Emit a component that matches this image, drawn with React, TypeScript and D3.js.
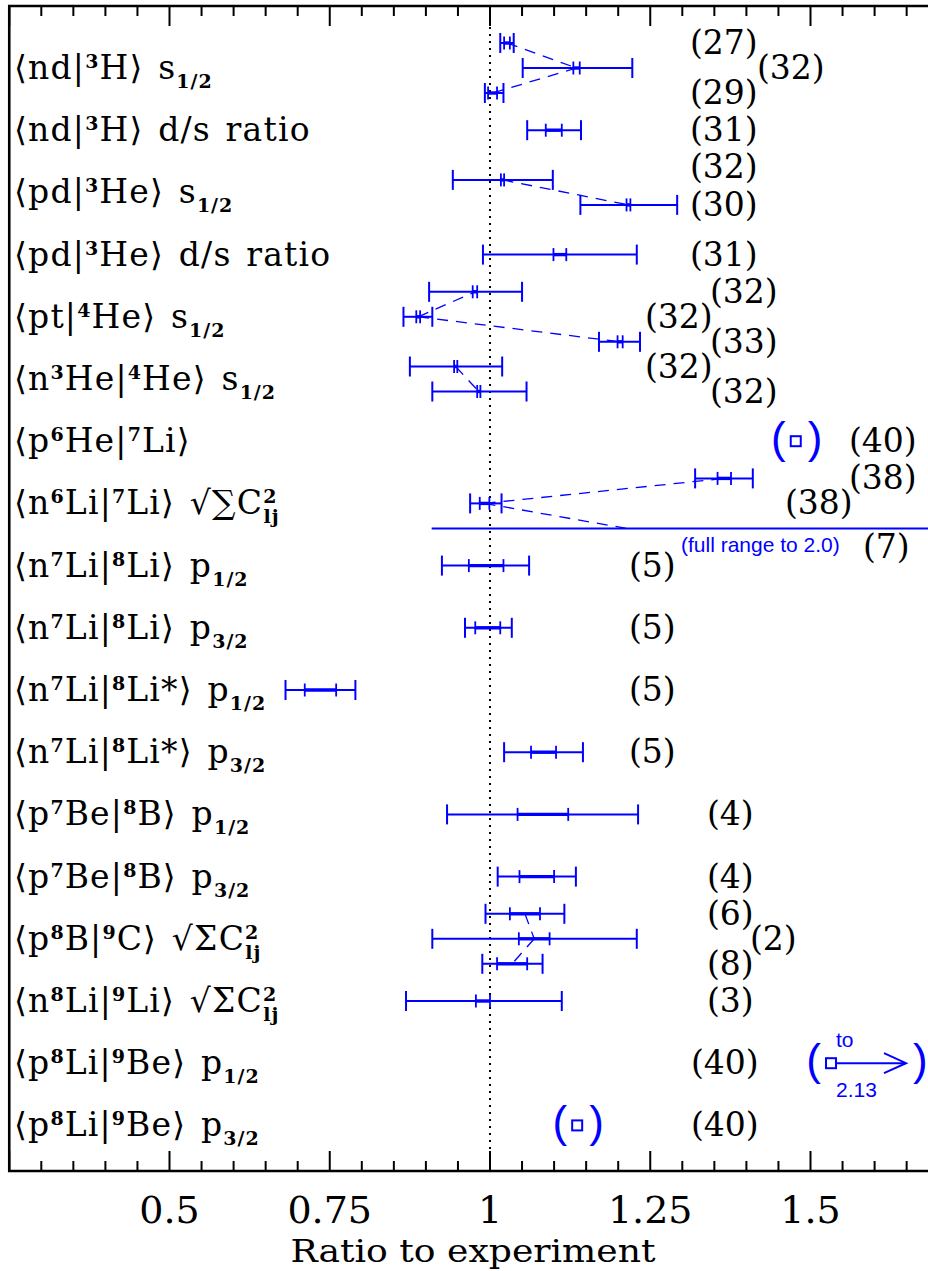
import React from 'react';
import * as d3 from 'd3';

// row labels: ^x / ^{..} superscript, _{..} subscript
const rowLabels = [
  '⟨nd|^3H⟩ s_{1/2}',
  '⟨nd|^3H⟩ d/s ratio',
  '⟨pd|^3He⟩ s_{1/2}',
  '⟨pd|^3He⟩ d/s ratio',
  '⟨pt|^4He⟩ s_{1/2}',
  '⟨n^3He|^4He⟩ s_{1/2}',
  '⟨p^6He|^7Li⟩',
  '⟨n^6Li|^7Li⟩ √∑C^{2}_{lj}',
  '⟨n^7Li|^8Li⟩ p_{1/2}',
  '⟨n^7Li|^8Li⟩ p_{3/2}',
  '⟨n^7Li|^8Li*⟩ p_{1/2}',
  '⟨n^7Li|^8Li*⟩ p_{3/2}',
  '⟨p^7Be|^8B⟩ p_{1/2}',
  '⟨p^7Be|^8B⟩ p_{3/2}',
  '⟨p^8B|^9C⟩ √ΣC^{2}_{lj}',
  '⟨n^8Li|^9Li⟩ √ΣC^{2}_{lj}',
  '⟨p^8Li|^9Be⟩ p_{1/2}',
  '⟨p^8Li|^9Be⟩ p_{3/2}',
];

// error bars (ratio to experiment)
const barRow  = [0, 0, 0, 1, 2, 2, 3, 4, 4, 4, 5, 5, 7, 7, 7, 8, 9, 10, 11, 12, 13, 14, 14, 14, 15];
const barSlot = [-1, 0, 1, 0, -0.5, 0.5, 0, -1, 0, 1, -0.5, 0.5, -1, 0, 1, 0, 0, 0, 0, 0, 0, -1, 0, 1, 0];
const barLow  = [1.016, 1.051, 0.992, 1.058, 0.942, 1.141, 0.989, 0.905, 0.865, 1.170, 0.875, 0.910, 1.320, 0.969, 0.909, 0.925, 0.961, 0.681, 1.022, 0.933, 1.012, 0.993, 0.910, 0.988, 0.869];
const barMidA = [1.022, 1.130, 0.997, 1.087, 1.017, 1.213, 1.099, 0.973, 0.885, 1.199, 0.944, 0.980, 1.355, 0.984, 1.213, 0.967, 0.977, 0.711, 1.064, 1.043, 1.046, 1.031, 1.045, 1.011, 0.978];
const barMidB = [1.031, 1.140, 1.011, 1.112, 1.022, 1.219, 1.119, 0.980, 0.891, 1.207, 0.949, 0.985, 1.376, 0.999, 1.213, 1.021, 1.016, 0.760, 1.103, 1.122, 1.100, 1.078, 1.093, 1.058, 1.000];
const barHigh = [1.037, 1.222, 1.021, 1.142, 1.098, 1.292, 1.229, 1.050, 0.910, 1.234, 1.019, 1.057, 1.410, 1.018, 2.0, 1.061, 1.034, 0.790, 1.145, 1.231, 1.134, 1.116, 1.229, 1.082, 1.112];
const openBars = [14];

// dashed connections between bars
const links = [[0, 1], [1, 2], [4, 5], [8, 7], [8, 9], [10, 11], [13, 12], [13, 14], [21, 22], [22, 23]];

// reference numbers
const refText = ['(27)', '(32)', '(29)', '(31)', '(32)', '(30)', '(31)', '(32)', '(32)', '(33)', '(32)', '(32)', '(40)', '(38)', '(38)', '(7)',
  '(5)', '(5)', '(5)', '(5)', '(4)', '(4)', '(6)', '(2)', '(8)', '(3)', '(40)', '(40)'];
const refRow = [0, 0, 0, 1, 2, 2, 3, 4, 4, 4, 5, 5, 6, 7, 7, 7, 8, 9, 10, 11, 12, 13, 14, 14, 14, 15, 16, 17];

// single values in parentheses
const markerRow = [6, 16, 17];
const markerValue = [1.477, 1.532, 1.136];
const markerArrowTo = [null, 1.649, null];

const tickValues = [0.5, 0.75, 1, 1.25, 1.5];
const tickLabels = ['0.5', '0.75', '1', '1.25', '1.5'];

const W = 928, H = 1271;
const TOP = 6, BOTTOM = 1171, LEFT = 9.25;
const SLOT = 25;
const BLUE = '#0000ff';
const SERIF = '"DejaVu Serif", "DejaVu Sans", serif';
const SANS = '"Liberation Sans", Arial, sans-serif';

// where the reference labels sit: [x, slot]
const refLayout: [number, number][] = [
  [690, -1], [757, 0], [690, 1], [690, 0], [690, -1], [690, 0.5], [690, 0],
  [710, -1], [645, 0], [710, 1], [645, -0.5], [710, 0.5],
  [849, 0], [849, -1], [785, 0], [863, 1.75],
  [629, 0], [629, 0], [629, 0], [629, 0], [707, 0], [707, 0],
  [707, -1], [750, 0], [707, 1], [707, 0], [691, 0], [691, 0],
];

type Seg = { t: string; kind: 'n' | 'sup' | 'sub' };
function parseLabel(s: string): Seg[] {
  const out: Seg[] = [];
  let buf = '';
  let i = 0;
  const flush = () => { if (buf) out.push({ t: buf, kind: 'n' }); buf = ''; };
  while (i < s.length) {
    const c = s[i];
    if (c === '^' || c === '_') {
      flush();
      let t = '';
      if (s[i + 1] === '{') {
        const j = s.indexOf('}', i);
        t = s.slice(i + 2, j);
        i = j + 1;
      } else {
        t = s[i + 1];
        i += 2;
      }
      out.push({ t, kind: c === '^' ? 'sup' : 'sub' });
    } else {
      buf += c;
      i++;
    }
  }
  flush();
  return out;
}

function RichLabel({ spec, x, y }: { spec: string; x: number; y: number }) {
  const segs = parseLabel(spec);
  let shift = 0;
  return (
    <text x={x} y={y} fontFamily={SERIF} fontSize={33} letterSpacing={1.2} wordSpacing={3} style={{ whiteSpace: 'pre' }}>
      {segs.map((s, i) => {
        const target = s.kind === 'sup' ? -11 : s.kind === 'sub' ? 9 : 0;
        const dy = target - shift;
        shift = target;
        const small = s.kind !== 'n';
        const dx = s.kind === 'sub' && i > 0 && segs[i - 1].kind === 'sup' ? -14 : 0;
        return (
          <tspan key={i} dy={dy} dx={dx} fontSize={small ? 19 : 33} fontWeight={small ? 'bold' : 'normal'}
            letterSpacing={small ? 1 : 1.2}>
            {s.t}
          </tspan>
        );
      })}
    </text>
  );
}

export default function App() {
  const x = d3.scaleLinear().domain([0.25, 1.75]).range([LEFT, LEFT + 1.5 * 641]);
  const row = d3.scalePoint<number>().domain(d3.range(rowLabels.length)).range([68, 1125.4]);
  const barY = (i: number) => (row(barRow[i]) as number) + barSlot[i] * SLOT;
  const barMid = (i: number) => (barMidA[i] + barMidB[i]) / 2;

  const ticks = d3.range(0, 35).map(k => 0.25 + k * 0.05);

  return (
    <svg width={W} height={H} style={{ position: 'absolute', left: 0, top: 0, background: '#fff' }}>
      {/* frame */}
      <path d={`M${W + 20},${TOP}H${LEFT}V${BOTTOM}H${W + 20}`} fill="none" stroke="#000" strokeWidth={2.6} />
      {ticks.map((t, k) => {
        const len = k % 5 === 0 ? 20 : 10;
        return (
          <g key={k} stroke="#000" strokeWidth={2}>
            <line x1={x(t)} x2={x(t)} y1={BOTTOM} y2={BOTTOM - len} />
            <line x1={x(t)} x2={x(t)} y1={TOP} y2={TOP + len} />
          </g>
        );
      })}
      {tickValues.map((t, k) => (
        <text key={k} x={x(t)} y={1223} textAnchor="middle" fontFamily={SERIF} fontSize={38}>{tickLabels[k]}</text>
      ))}
      <text x={473} y={1262} textAnchor="middle" fontFamily={SERIF} fontSize={32} textLength={365} lengthAdjust="spacingAndGlyphs">
        Ratio to experiment
      </text>

      {/* unity line */}
      <line x1={x(1)} x2={x(1)} y1={TOP} y2={BOTTOM} stroke="#000" strokeWidth={2} strokeDasharray="2,5" />

      {/* row labels */}
      {rowLabels.map((l, r) => (
        <RichLabel key={r} spec={l} x={14} y={(row(r) as number) + 11} />
      ))}

      {/* dashed links */}
      {links.map(([a, b], k) => (
        <line key={k} x1={x(barMid(a))} y1={barY(a)} x2={x(barMid(b))} y2={barY(b)}
          stroke={BLUE} strokeWidth={1.3} strokeDasharray="11,8" />
      ))}

      {/* error bars */}
      {barRow.map((_, i) => {
        const y = barY(i);
        const open = openBars.includes(i);
        return (
          <g key={i} stroke={BLUE} fill="none">
            <line x1={x(barLow[i])} x2={x(barHigh[i])} y1={y} y2={y} strokeWidth={2} />
            {!open && (
              <>
                <line x1={x(barMidA[i])} x2={x(barMidB[i])} y1={y} y2={y} strokeWidth={3.4} />
                <line x1={x(barLow[i])} x2={x(barLow[i])} y1={y - 10} y2={y + 10} strokeWidth={2} />
                <line x1={x(barHigh[i])} x2={x(barHigh[i])} y1={y - 10} y2={y + 10} strokeWidth={2} />
                <line x1={x(barMidA[i])} x2={x(barMidA[i])} y1={y - 6.5} y2={y + 6.5} strokeWidth={1.8} />
                <line x1={x(barMidB[i])} x2={x(barMidB[i])} y1={y - 6.5} y2={y + 6.5} strokeWidth={1.8} />
              </>
            )}
          </g>
        );
      })}
      <text x={681} y={552} fontFamily={SANS} fontSize={21} fill={BLUE}>(full range to 2.0)</text>

      {/* single-value markers */}
      {markerRow.map((r, k) => {
        const cy = row(r) as number;
        const cx = x(markerValue[k]);
        const to = markerArrowTo[k];
        const right = to != null ? x(to) : cx + 5;
        return (
          <g key={k} fill={BLUE}>
            <text x={cx - 10} y={cy + 12} textAnchor="end" fontFamily={SANS} fontSize={44}>(</text>
            <text x={right + 7} y={cy + 12} textAnchor="start" fontFamily={SANS} fontSize={44}>)</text>
            <rect x={cx - 5} y={cy - 5} width={10} height={10} fill="none" stroke={BLUE} strokeWidth={2} />
            {to != null && (
              <g stroke={BLUE} strokeWidth={2} fill="none">
                <line x1={cx + 5} x2={right} y1={cy} y2={cy} />
                <polyline points={`${right - 22},${cy - 10} ${right},${cy} ${right - 22},${cy + 10}`} />
                <text x={cx + 5} y={cy - 16} fontFamily={SANS} fontSize={21} fill={BLUE} stroke="none">to</text>
                <text x={cx + 5} y={cy + 34} fontFamily={SANS} fontSize={21} fill={BLUE} stroke="none">2.13</text>
              </g>
            )}
          </g>
        );
      })}

      {/* reference numbers */}
      {refText.map((t, k) => (
        <text key={k} x={refLayout[k][0]} y={(row(refRow[k]) as number) + refLayout[k][1] * SLOT + 11}
          fontFamily={SERIF} fontSize={33}>{t}</text>
      ))}
    </svg>
  );
}
